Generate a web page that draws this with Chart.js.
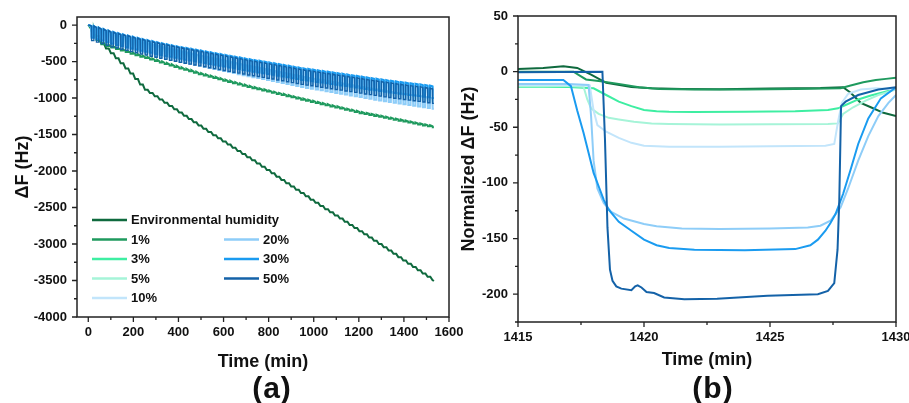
<!DOCTYPE html>
<html>
<head>
<meta charset="utf-8">
<script src="https://cdn.jsdelivr.net/npm/chart.js@4/dist/chart.umd.min.js"></script>
<style>
  body { margin: 0; background: #fff; width: 909px; height: 403px; position: relative; overflow: hidden;
         font-family: "Liberation Sans", Arial, sans-serif; }
  canvas { position: absolute; top: 0; }
  #chartA { left: 0; }
  #chartB { left: 450px; }
  .tag { position: absolute; font-weight: bold; font-size: 30px; letter-spacing: 1px; line-height: 1;
         transform: translate(-50%, -50%); color: #111; }
</style>
</head>
<body>
<canvas id="chartA" width="470" height="403"></canvas>
<canvas id="chartB" width="459" height="403"></canvas>
<div class="tag" style="left:272px; top:388px;">(a)</div>
<div class="tag" style="left:713px; top:388px;">(b)</div>
<script>
// ---- shared series info ----
const seriesNames = ["Environmental humidity", "1%", "3%", "5%", "10%", "20%", "30%", "50%"];
const seriesColors = ["#0f6a3e", "#1f9a5e", "#3eeea2", "#a6f4d8", "#c2e5fb", "#8ecdf8", "#1a9bf0", "#1462a8"];
const pulseDepth = [0, 15, 36, 48, 67, 140, 160, 200];
const lineWidthA = [2, 2, 1.8, 1.8, 2, 2, 2, 1.4];

// ---- panel (a): long run, one humidity pulse per cycle ----
const cycleTimes = [14, 35.6, 57.2, 78.8, 100.4, 122.1, 143.7, 165.3, 186.9, 208.5, 230.1, 251.7, 273.3, 294.9, 316.5,
    338.2, 359.8, 381.4, 403.0, 424.6, 446.2, 467.8, 489.4, 511.0, 532.6, 554.3, 575.9, 597.5, 619.1, 640.7, 662.3,
    683.9, 705.5, 727.1, 748.7, 770.4, 792.0, 813.6, 835.2, 856.8, 878.4, 900.0, 921.6, 943.2, 964.8, 986.5, 1008.1,
    1029.7, 1051.3, 1072.9, 1094.5, 1116.1, 1137.7, 1159.3, 1180.9, 1202.6, 1224.2, 1245.8, 1267.4, 1289.0, 1310.6,
    1332.2, 1353.8, 1375.4, 1397.0, 1418.7, 1440.3, 1461.9, 1483.5, 1505.1, 1526.7];
const endTime = 1533;

const envSteps = [-40, -150, -250, -320, -385, -455, -525, -595, -665, -740, -815, -888, -932, -976, -1021, -1066,
    -1110, -1155, -1200, -1244, -1289, -1333, -1378, -1422, -1465, -1509, -1552, -1595, -1638, -1681, -1725, -1768,
    -1811, -1854, -1897, -1942, -1987, -2032, -2077, -2122, -2167, -2212, -2257, -2302, -2347, -2392, -2436, -2479,
    -2523, -2566, -2609, -2652, -2695, -2739, -2782, -2825, -2868, -2912, -2956, -3001, -3045, -3090, -3135, -3180,
    -3225, -3270, -3314, -3359, -3404, -3449, -3493];
const envEnd = -3507;

const top1 = [-60, -190, -250, -271, -292, -314, -335, -356, -377, -398, -418, -438, -458, -478, -499, -519, -539,
    -559, -579, -599, -618, -638, -658, -676, -694, -712, -729, -747, -764, -782, -799, -817, -834, -850, -866, -881,
    -897, -913, -929, -944, -960, -976, -992, -1007, -1023, -1038, -1054, -1069, -1084, -1100, -1115, -1130, -1146,
    -1161, -1176, -1192, -1205, -1217, -1230, -1243, -1256, -1269, -1282, -1295, -1308, -1321, -1334, -1347, -1360,
    -1373, -1386];

// baseline shared by 3%, 5%, 10% and 20% (they overlap in the band)
const topLow = [-16, -41, -65, -90, -114, -134, -154, -173, -192, -211, -229, -247, -265, -283, -300, -316, -331,
    -347, -362, -377, -390, -404, -419, -433, -448, -462, -476, -491, -505, -518, -533, -547, -562, -575, -587, -600,
    -613, -626, -641, -654, -668, -683, -696, -710, -721, -732, -744, -755, -767, -778, -790, -800, -812, -824, -835,
    -847, -859, -871, -882, -894, -905, -916, -926, -936, -947, -956, -966, -976, -985, -996, -1006];

const top30 = [-13, -34, -54, -75, -95, -112, -128, -144, -160, -176, -191, -206, -221, -236, -250, -263, -276, -289,
    -302, -314, -325, -337, -349, -361, -373, -385, -397, -409, -421, -432, -444, -456, -468, -479, -489, -500, -511,
    -522, -534, -545, -557, -569, -580, -592, -601, -610, -620, -629, -639, -648, -658, -667, -677, -687, -696, -706,
    -716, -726, -735, -745, -754, -763, -772, -780, -789, -797, -805, -813, -821, -830, -838];

const top50 = [-13, -34, -55, -76, -97, -114, -131, -147, -164, -180, -196, -211, -227, -242, -257, -270, -284, -297,
    -311, -323, -335, -347, -360, -372, -385, -397, -410, -422, -435, -446, -459, -471, -484, -495, -506, -517, -529,
    -540, -553, -564, -577, -589, -601, -613, -623, -632, -643, -652, -663, -672, -683, -692, -703, -713, -723, -733,
    -744, -754, -764, -774, -784, -793, -803, -811, -821, -829, -838, -846, -855, -864, -873];

const xMajorA = [0, 200, 400, 600, 800, 1000, 1200, 1400, 1600];
const xMinorA = [100, 300, 500, 700, 900, 1100, 1300, 1500];
const yMajorA = [0, -500, -1000, -1500, -2000, -2500, -3000, -3500, -4000];
const yMinorA = [-250, -750, -1250, -1750, -2250, -2750, -3250, -3750];

// ---- panel (b): one cycle, normalized ----
const tB_env = [1415, 1416, 1416.8, 1417.35, 1417.9, 1418.5, 1419.5, 1420.3, 1421.5, 1423, 1425, 1427, 1427.9, 1428.2, 1428.6, 1429.0, 1429.5, 1430];
const vB_env = [2.4, 3.2, 4.8, 3.3, -2.7, -10, -13.8, -15, -15.5, -15.8, -15.2, -14.8, -14, -19, -28, -32, -37, -40];
const tB_1 = [1415, 1417.2, 1417.45, 1417.7, 1418.2, 1419, 1419.8, 1420.6, 1422, 1424, 1426, 1427.8, 1428.2, 1428.7, 1429.2, 1429.6, 1430];
const vB_1 = [0, 0, -3.5, -7, -8.5, -11, -14, -15.5, -16, -16, -15.5, -15, -12.5, -9.5, -7.5, -6.5, -5.5];
const tB_3 = [1415, 1416, 1417, 1418, 1418.5, 1419, 1419.5, 1420, 1420.5, 1421, 1422, 1424, 1426, 1427.3, 1427.7, 1428, 1428.5, 1429, 1429.5, 1430];
const vB_3 = [-13.5, -13.5, -13.8, -15, -21, -27, -31, -34.5, -35.5, -36, -36.2, -36, -35.5, -34.5, -33, -30, -25, -21.5, -18.5, -15.5];
const tB_5 = [1415, 1417, 1417.6, 1417.75, 1417.9, 1418.2, 1418.6, 1419, 1419.6, 1420.3, 1421, 1423, 1425, 1427.3, 1427.7, 1427.9, 1428.3, 1428.8, 1429.3, 1430];
const vB_5 = [-13, -13, -13.5, -25, -33, -38, -41.5, -43, -45, -46.5, -47, -47.5, -47.2, -47, -46.5, -38, -32, -26, -21, -16];
const tB_10 = [1415, 1417, 1417.85, 1418.0, 1418.15, 1418.5, 1419, 1419.5, 1420, 1420.5, 1421, 1423, 1425, 1427.2, 1427.55, 1427.7, 1427.85, 1428.1, 1428.6, 1429.2, 1430];
const vB_10 = [-12, -12, -12.5, -35, -48, -54, -59.5, -64, -66.5, -67, -67.5, -67.5, -67, -66.5, -65, -45, -28, -20, -16, -15, -16];
const tB_20 = [1415, 1417, 1417.8, 1417.9, 1418.0, 1418.15, 1418.4, 1418.7, 1419.2, 1420, 1420.5, 1421.5, 1423, 1425, 1426.5, 1427, 1427.4, 1427.8, 1428.1, 1428.5, 1428.9, 1429.3, 1429.7, 1430];
const vB_20 = [-11, -11, -12, -40, -80, -105, -118, -126, -132, -137, -139, -141, -141.5, -141, -140, -138.5, -134, -122, -105, -80, -58, -40, -28, -21];
const tB_30 = [1415, 1416.8, 1417.1, 1417.35, 1417.6, 1417.8, 1418.0, 1418.2, 1418.4, 1418.6, 1419, 1419.5, 1420, 1420.5, 1421, 1422, 1424, 1426, 1426.6, 1426.9, 1427.2, 1427.4, 1427.6, 1427.9, 1428.2, 1428.5, 1428.9, 1429.4, 1430];
const vB_30 = [-7.5, -7.5, -13, -35, -55, -73, -91, -103, -115, -124, -135, -143, -151, -156, -158.5, -160, -160.5, -159.5, -156, -151, -143, -136, -128, -110, -88, -65, -42, -24, -14];
const tB_50 = [1415, 1418.35, 1418.45, 1418.55, 1418.65, 1418.75, 1418.9, 1419.1, 1419.5, 1419.65, 1419.75, 1419.9, 1420.1, 1420.4, 1420.8, 1421.6, 1422.9, 1424.9, 1426.9, 1427.3, 1427.55, 1427.68, 1427.75, 1427.82, 1428.0, 1428.5, 1429.3, 1430];
const vB_50 = [-0.5, 0, -60, -140, -178, -188, -193, -195, -196.5, -193, -192, -194, -198, -199, -203, -204.5, -204, -201.5, -200, -197, -190, -160, -115, -31, -27, -21, -16, -14];

const xMajorB = [1415, 1420, 1425, 1430];
const xMinorB = [1417.5, 1422.5, 1427.5];
const yMajorB = [50, 0, -50, -100, -150, -200];
const yMinorB = [25, -25, -75, -125, -175, -225];

// ---- helpers ----
function pulseTrain(tops, depth) {
    const pts = [{ x: 0, y: 0 }];
    cycleTimes.forEach((t, i) => {
        const low = tops[i] - depth;
        [[t, tops[i]], [t + 0.8, low], [t + 10, low], [t + 10.8, tops[i]]].forEach(([x, y]) => {
            if (x <= endTime) pts.push({ x, y });
        });
    });
    pts.push({ x: endTime, y: tops[tops.length - 1] - depth });
    return pts;
}

function stairs(steps, endValue) {
    const pts = [{ x: 0, y: 0 }];
    cycleTimes.forEach((t, i) => {
        pts.push({ x: t, y: steps[i] });
        if (t + 12 <= endTime) pts.push({ x: t + 12, y: steps[i] });
    });
    pts.push({ x: endTime, y: endValue });
    return pts;
}

function zip(xs, ys) {
    return xs.map((x, i) => ({ x, y: ys[i] }));
}

const frameAndTicks = {
    id: "frameAndTicks",
    afterDatasetsDraw(chart, args, opts) {
        const { ctx, chartArea: a, scales } = chart;
        ctx.save();
        ctx.strokeStyle = "#222";
        ctx.lineWidth = 1.5;
        ctx.strokeRect(a.left, a.top, a.right - a.left, a.bottom - a.top);
        ctx.lineWidth = 1.3;
        ctx.beginPath();
        for (const [vals, len] of [[opts.xMajor, 5], [opts.xMinor, 3]]) {
            vals.forEach((v) => {
                const px = scales.x.getPixelForValue(v);
                ctx.moveTo(px, a.bottom);
                ctx.lineTo(px, a.bottom + len);
            });
        }
        for (const [vals, len] of [[opts.yMajor, 5], [opts.yMinor, 3]]) {
            vals.forEach((v) => {
                const py = scales.y.getPixelForValue(v);
                ctx.moveTo(a.left, py);
                ctx.lineTo(a.left - len, py);
            });
        }
        ctx.stroke();
        ctx.restore();
    },
};

const legendA = {
    id: "legendA",
    afterDraw(chart) {
        const { ctx, chartArea: a } = chart;
        // [series index, column, row]
        const slots = [[0, 0, 0], [1, 0, 1], [2, 0, 2], [3, 0, 3], [4, 0, 4], [5, 1, 1], [6, 1, 2], [7, 1, 3]];
        ctx.save();
        ctx.font = "bold 13px 'Liberation Sans', Arial, sans-serif";
        ctx.textBaseline = "middle";
        ctx.fillStyle = "#111";
        slots.forEach(([s, col, row]) => {
            const x0 = a.left + 15 + col * 132;
            const y = a.top + 203 + row * 19.5;
            ctx.strokeStyle = seriesColors[s];
            ctx.lineWidth = 2.5;
            ctx.beginPath();
            ctx.moveTo(x0, y);
            ctx.lineTo(x0 + 35, y);
            ctx.stroke();
            ctx.fillText(seriesNames[s], x0 + 39, y + 0.5);
        });
        ctx.restore();
    },
};

Chart.defaults.font.family = "'Liberation Sans', Arial, sans-serif";
Chart.defaults.color = "#111";

function axis(min, max, majors, fit, title, titlePad, isX) {
    return {
        type: "linear",
        min,
        max,
        afterBuildTicks: (scale) => { scale.ticks = majors.map((v) => ({ value: v })); },
        afterFit: (scale) => {
            if (isX) { scale.height = fit; scale.paddingLeft = 0; scale.paddingRight = 0; }
            else { scale.width = fit; scale.paddingTop = 0; scale.paddingBottom = 0; }
        },
        grid: { display: false, drawTicks: false },
        border: { display: false },
        ticks: {
            autoSkip: false,
            maxRotation: 0,
            padding: isX ? 8 : 10,
            font: { size: 13, weight: "bold" },
            color: "#111",
            callback: (v) => String(v),
        },
        title: {
            display: true,
            text: title,
            font: { size: 18, weight: "bold" },
            color: "#111",
            padding: titlePad,
        },
    };
}

const baseOptions = {
    responsive: false,
    animation: false,
    events: [],
    elements: { point: { radius: 0 }, line: { tension: 0 } },
};

// ---- chart (a) ----
const topsA = [null, top1, topLow, topLow, topLow, topLow, top30, top50];
const datasetsA = seriesNames.map((name, i) => ({
    label: name,
    data: i === 0 ? stairs(envSteps, envEnd) : pulseTrain(topsA[i], pulseDepth[i]),
    borderColor: seriesColors[i],
    borderWidth: lineWidthA[i],
    order: seriesNames.length - i,
}));

new Chart(document.getElementById("chartA"), {
    type: "line",
    data: { datasets: datasetsA },
    options: {
        ...baseOptions,
        layout: { padding: { top: 17, right: 21, left: 0, bottom: 0 } },
        plugins: {
            legend: { display: false },
            tooltip: { enabled: false },
            frameAndTicks: { xMajor: xMajorA, xMinor: xMinorA, yMajor: yMajorA, yMinor: yMinorA },
        },
        scales: {
            x: axis(-50, 1600, xMajorA, 86, "Time (min)", { top: 0, bottom: 30 }, true),
            y: axis(-4000, 110, yMajorA, 77, "\u0394F (Hz)", { top: 12, bottom: 0 }, false),
        },
    },
    plugins: [frameAndTicks, legendA],
});

// ---- chart (b) ----
const pointsB = [zip(tB_env, vB_env), zip(tB_1, vB_1), zip(tB_3, vB_3), zip(tB_5, vB_5),
    zip(tB_10, vB_10), zip(tB_20, vB_20), zip(tB_30, vB_30), zip(tB_50, vB_50)];
const datasetsB = seriesNames.map((name, i) => ({
    label: name,
    data: pointsB[i],
    borderColor: seriesColors[i],
    borderWidth: 2,
    order: seriesNames.length - i,
}));

new Chart(document.getElementById("chartB"), {
    type: "line",
    data: { datasets: datasetsB },
    options: {
        ...baseOptions,
        layout: { padding: { top: 16, right: 13, left: 0, bottom: 0 } },
        plugins: {
            legend: { display: false },
            tooltip: { enabled: false },
            frameAndTicks: { xMajor: xMajorB, xMinor: xMinorB, yMajor: yMajorB, yMinor: yMinorB },
        },
        scales: {
            x: axis(1415, 1430, xMajorB, 81, "Time (min)", { top: 0, bottom: 32 }, true),
            y: axis(-225, 50, yMajorB, 68, "Normalized \u0394F (Hz)", { top: 8, bottom: 0 }, false),
        },
    },
    plugins: [frameAndTicks],
});
</script>
</body>
</html>
